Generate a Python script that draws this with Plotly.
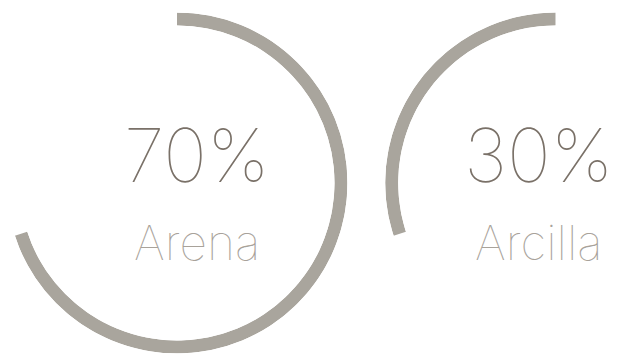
import plotly.graph_objects as go

# Share of each material (percent)
materials = ["Arena", "Arcilla"]
shares = [70, 30]
# Arc sweep direction for each gauge
directions = ["clockwise", "counterclockwise"]

ARC_COLOR = "#a9a59d"
PCT_COLOR = "#7a7168"
LABEL_COLOR = "#a8a29a"
FONT = "Inter, Roboto, sans-serif"
W, H = 625, 357

fig = go.Figure()

# Each gauge lives in its own polar subplot; the bar spans share% of a full turn.
for i, (name, val, direc) in enumerate(zip(materials, shares, directions)):
    pid = "polar" if i == 0 else f"polar{i + 1}"
    fig.add_trace(go.Barpolar(
        r=[1],
        theta=[val * 3.6 / 2],
        width=[val * 3.6],
        base=0,
        marker=dict(color=ARC_COLOR, line=dict(width=0)),
        subplot=pid,
        hoverinfo="skip",
        showlegend=False,
    ))

outer = 170.5
hole = 157.5 / outer
cy = 183
ydom = [1 - (cy + outer) / H, 1 - (cy - outer) / H]

polar_common = dict(
    hole=hole,
    bgcolor="rgba(0,0,0,0)",
    radialaxis=dict(visible=False, range=[0, 1]),
    angularaxis=dict(visible=False, rotation=90),
)

# Left gauge: full disk centred at x=177
cx_left = 177
fig.update_layout(polar=dict(
    **polar_common,
    domain=dict(x=[(cx_left - outer) / W, (cx_left + outer) / W], y=ydom),
))
fig.layout.polar.angularaxis.direction = directions[0]

# Right gauge: only the left half of its disk fits on the canvas
cx_right = 555.7
fig.update_layout(polar2=dict(
    **polar_common,
    sector=[90, 270],
    domain=dict(x=[(cx_right - outer) / W, cx_right / W], y=ydom),
))
fig.layout.polar2.angularaxis.direction = directions[1]

text_x = [197, 538]
for name, val, tx in zip(materials, shares, text_x):
    fig.add_annotation(
        x=tx / W, y=1 - 155 / H, xref="paper", yref="paper",
        text=f"{val}%", showarrow=False, xanchor="center", yanchor="middle",
        font=dict(family=FONT, size=74, color=PCT_COLOR, weight=100),
    )
    fig.add_annotation(
        x=tx / W, y=1 - 242 / H, xref="paper", yref="paper",
        text=name, showarrow=False, xanchor="center", yanchor="middle",
        font=dict(family=FONT, size=48, color=LABEL_COLOR, weight=100),
    )

fig.update_layout(
    width=W, height=H,
    margin=dict(l=0, r=0, t=0, b=0),
    paper_bgcolor="white",
    plot_bgcolor="white",
    showlegend=False,
)

fig.write_html("out.html", config={"displayModeBar": False})
